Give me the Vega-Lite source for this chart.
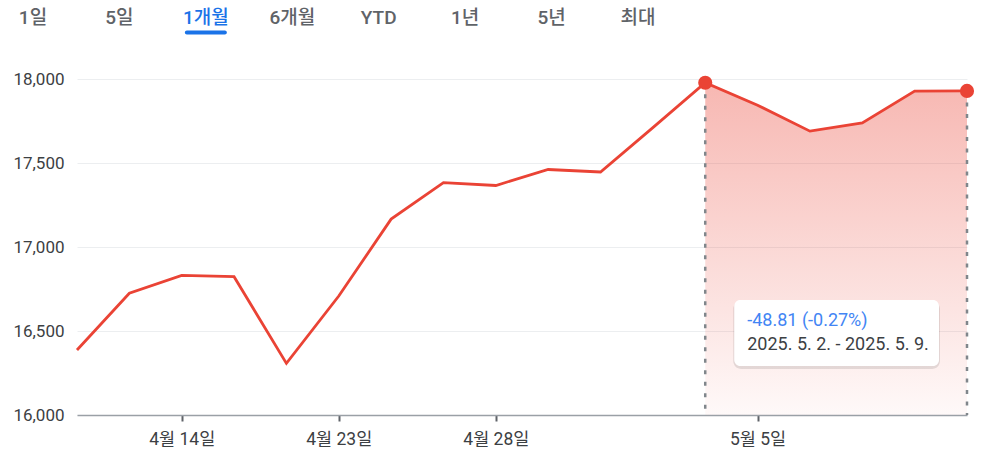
{
  "$schema": "https://vega.github.io/schema/vega-lite/v6.json",
  "padding": {"left": 12, "top": 0, "right": 0, "bottom": 0},
  "background": "white",
  "spacing": 35,
  "config": {
    "view": {"stroke": null},
    "font": "Roboto, 'Noto Sans CJK KR', sans-serif"
  },
  "datasets": {
    "prices": [
      {"date": "2025-04-10", "close": 16387.31},
      {"date": "2025-04-11", "close": 16724.46},
      {"date": "2025-04-14", "close": 16831.48},
      {"date": "2025-04-15", "close": 16823.17},
      {"date": "2025-04-16", "close": 16307.16},
      {"date": "2025-04-23", "close": 16708.05},
      {"date": "2025-04-24", "close": 17166.04},
      {"date": "2025-04-25", "close": 17382.94},
      {"date": "2025-04-28", "close": 17366.13},
      {"date": "2025-04-29", "close": 17461.32},
      {"date": "2025-04-30", "close": 17446.34},
      {"date": "2025-05-01", "close": 17710.74},
      {"date": "2025-05-02", "close": 17977.73},
      {"date": "2025-05-05", "close": 17844.24},
      {"date": "2025-05-06", "close": 17689.66},
      {"date": "2025-05-07", "close": 17738.16},
      {"date": "2025-05-08", "close": 17928.14},
      {"date": "2025-05-09", "close": 17928.92}
    ],
    "tabs": [
      {"tab": "1일"}, {"tab": "5일"}, {"tab": "1개월"}, {"tab": "6개월"},
      {"tab": "YTD"}, {"tab": "1년"}, {"tab": "5년"}, {"tab": "최대"}
    ],
    "note": [
      {"start": "2025-05-02", "end": "2025-05-09", "change": "-48.81 (-0.27%)", "range": "2025. 5. 2. - 2025. 5. 9."}
    ]
  },
  "vconcat": [
    {
      "width": 645,
      "height": 35,
      "data": {"name": "tabs"},
      "layer": [
        {
          "mark": {"type": "text", "fontSize": 19, "fontWeight": 500, "baseline": "middle"},
          "encoding": {
            "x": {"field": "tab", "type": "ordinal", "sort": null, "scale": {"type": "point", "padding": 0, "range": [-44, 561]}, "axis": null},
            "text": {"field": "tab"},
            "color": {"condition": {"test": "datum.tab === '1개월'", "value": "#1a73e8"}, "value": "#5f6368"}
          }
        },
        {
          "transform": [{"filter": "datum.tab === '1개월'"}],
          "mark": {"type": "tick", "orient": "horizontal", "size": 42, "thickness": 4, "cornerRadius": 2, "color": "#1a73e8", "opacity": 1, "yOffset": 15},
          "encoding": {
            "x": {"field": "tab", "type": "ordinal", "sort": null}
          }
        }
      ]
    },
    {
      "width": 890,
      "height": 336,
      "layer": [
        {
          "data": {"name": "prices"},
          "transform": [{"filter": "datum.date >= '2025-05-02'"}],
          "mark": {
            "type": "area",
            "color": {"gradient": "linear", "x1": 0, "y1": 0, "x2": 0, "y2": 1,
              "stops": [
                {"offset": 0, "color": "rgba(234,67,53,0.38)"},
                {"offset": 1, "color": "rgba(234,67,53,0.03)"}
              ]}
          },
          "encoding": {
            "x": {"field": "date", "type": "ordinal", "scale": {"type": "point", "padding": 0},
              "axis": {
                "values": ["2025-04-14", "2025-04-23", "2025-04-28", "2025-05-05"],
                "labelExpr": "utcFormat(toDate(datum.value), '%-m월 %-d일')",
                "labelAngle": 0, "title": null, "grid": false,
                "domainColor": "#9aa0a6", "domainWidth": 1.5,
                "tickColor": "#5f6368", "tickWidth": 2, "tickSize": 6,
                "labelPadding": 9, "labelFontSize": 17.5, "labelColor": "#3c4043"
              }},
            "y": {"field": "close", "type": "quantitative",
              "scale": {"domain": [16000, 18000], "nice": false, "zero": false},
              "axis": {
                "values": [16000, 16500, 17000, 17500, 18000], "format": ",d",
                "grid": true, "gridColor": "#eceef0", "gridWidth": 1,
                "domain": false, "ticks": false, "tickSize": 0,
                "labelPadding": 13, "labelFontSize": 17, "labelColor": "#3c4043",
                "labelFlush": false, "labelOverlap": false, "title": null
              }},
            "y2": {"datum": 16000}
          }
        },
        {
          "data": {"name": "prices"},
          "transform": [{"filter": "datum.date == '2025-05-02' || datum.date == '2025-05-09'"}],
          "mark": {"type": "rule", "color": "#80868b", "strokeWidth": 2.5, "strokeDash": [4, 7.5]},
          "encoding": {
            "x": {"field": "date", "type": "ordinal"},
            "y": {"field": "close", "type": "quantitative"},
            "y2": {"datum": 16000}
          }
        },
        {
          "data": {"name": "prices"},
          "mark": {"type": "line", "color": "#ea4335", "strokeWidth": 2.8},
          "encoding": {
            "x": {"field": "date", "type": "ordinal"},
            "y": {"field": "close", "type": "quantitative"}
          }
        },
        {
          "data": {"name": "prices"},
          "transform": [{"filter": "datum.date == '2025-05-02' || datum.date == '2025-05-09'"}],
          "mark": {"type": "circle", "color": "#ea4335", "size": 200, "opacity": 1},
          "encoding": {
            "x": {"field": "date", "type": "ordinal"},
            "y": {"field": "close", "type": "quantitative"}
          }
        },
        {
          "data": {"name": "note"},
          "mark": {"type": "rect", "color": "#000000", "opacity": 0.1, "cornerRadius": 8, "xOffset": 28, "x2Offset": -27, "yOffset": 1, "y2Offset": 3},
          "encoding": {
            "x": {"field": "start", "type": "ordinal"},
            "x2": {"field": "end"},
            "y": {"datum": 16685},
            "y2": {"datum": 16292}
          }
        },
        {
          "data": {"name": "note"},
          "mark": {"type": "rect", "color": "#ffffff", "opacity": 1, "cornerRadius": 6, "xOffset": 29, "x2Offset": -28},
          "encoding": {
            "x": {"field": "start", "type": "ordinal"},
            "x2": {"field": "end"},
            "y": {"datum": 16685},
            "y2": {"datum": 16292}
          }
        },
        {
          "data": {"name": "note"},
          "mark": {"type": "text", "align": "left", "baseline": "middle", "dx": 42, "fontSize": 18, "color": "#4285f4"},
          "encoding": {
            "x": {"field": "start", "type": "ordinal"},
            "y": {"datum": 16560},
            "text": {"field": "change"}
          }
        },
        {
          "data": {"name": "note"},
          "mark": {"type": "text", "align": "left", "baseline": "middle", "dx": 42, "fontSize": 18, "color": "#3c4043"},
          "encoding": {
            "x": {"field": "start", "type": "ordinal"},
            "y": {"datum": 16417},
            "text": {"field": "range"}
          }
        }
      ]
    }
  ]
}
